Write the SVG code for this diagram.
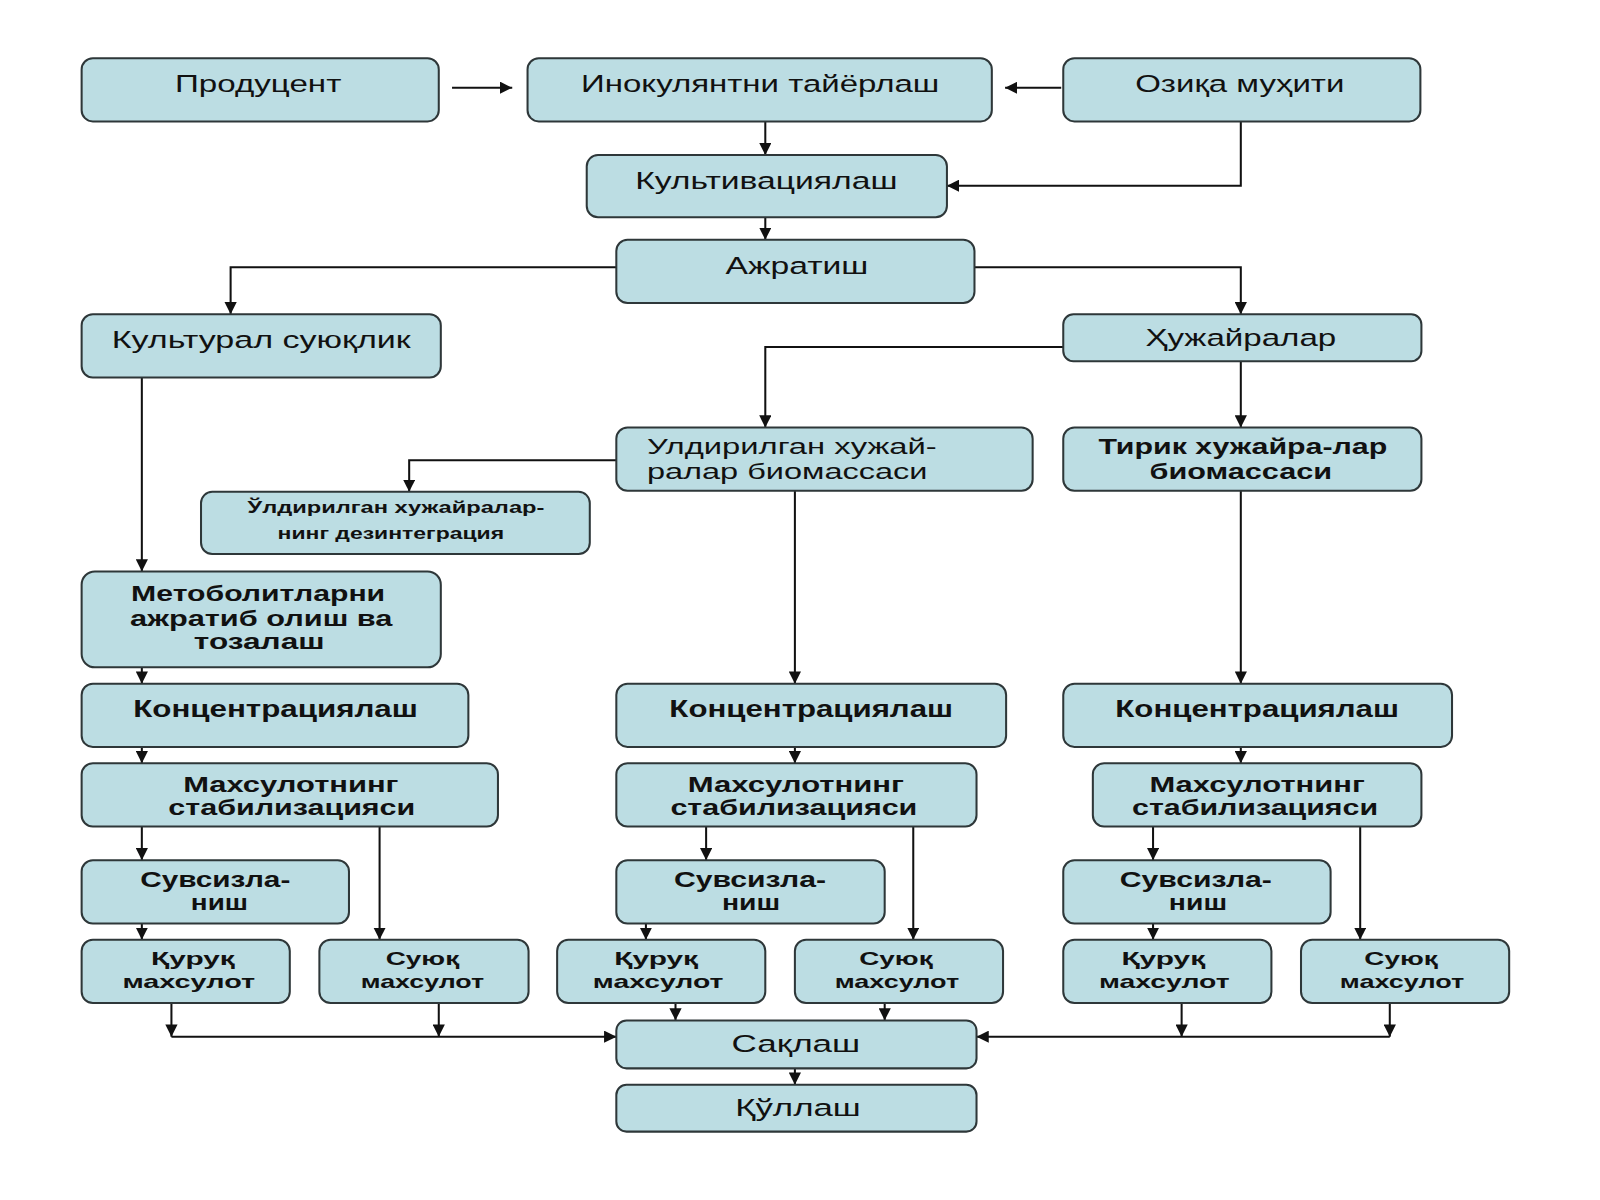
<svg xmlns="http://www.w3.org/2000/svg" width="1600" height="1200" viewBox="0 0 1600 1200">
<style>
.box rect{fill:#bcdde3;stroke:#2e3739;stroke-width:2}
.t{font-family:"Liberation Sans",Arial,sans-serif;font-size:23px;fill:#111;text-anchor:middle}
.s{text-anchor:start}
.b{font-weight:bold}
.two{font-size:21px}
.q{font-size:18px;font-weight:bold}
.sm{font-size:16px;font-weight:bold}
.c path{fill:none;stroke:#111;stroke-width:2;marker-end:url(#ah)}
</style>
<defs>
<marker id="ah" viewBox="0 0 10 10" refX="10" refY="5" markerWidth="12" markerHeight="12" markerUnits="userSpaceOnUse" orient="auto"><path d="M0,0 L10,5 L0,10 z" fill="#111"/></marker>
</defs>
<rect width="1600" height="1200" fill="#ffffff"/>
<g id="diagram" transform="scale(1.0204)">
<g class="c" id="connectors">
<path d="M443,86 H502"/>
<path d="M1040,86 H985"/>
<path d="M750,119 V152"/>
<path d="M1216,119 V182 H928"/>
<path d="M750,213 V235"/>
<path d="M604,262 H226 V308"/>
<path d="M955,262 H1216 V308"/>
<path d="M1042,340 H750 V419"/>
<path d="M1216,354 V419"/>
<path d="M604,451 H401 V482"/>
<path d="M779,481 V670"/>
<path d="M1216,481 V670"/>
<path d="M139,370 V560"/>
<path d="M139,654 V670"/>
<path d="M139,732 V748"/>
<path d="M779,732 V748"/>
<path d="M1216,732 V748"/>
<path d="M139,810 V843"/>
<path d="M372,810 V921"/>
<path d="M692,810 V843"/>
<path d="M895,810 V921"/>
<path d="M1130,810 V843"/>
<path d="M1333,810 V921"/>
<path d="M139,905 V921"/>
<path d="M633,905 V921"/>
<path d="M1130,905 V921"/>
<path d="M168,983 V1016"/>
<path d="M430,983 V1016"/>
<path d="M168,1016 H604"/>
<path d="M662,983 V1000"/>
<path d="M867,983 V1000"/>
<path d="M1158,983 V1016"/>
<path d="M1362,983 V1016"/>
<path d="M1362,1016 H957"/>
<path d="M779,1047 V1063"/>
</g>
<g class="box" id="n-producent"><rect x="80" y="57" width="350" height="62" rx="11"/><text class="t" x="253" y="90" textLength="163" lengthAdjust="spacingAndGlyphs">Продуцент</text></g>
<g class="box" id="n-inokulyant"><rect x="517" y="57" width="455" height="62" rx="11"/><text class="t" x="745" y="90" textLength="351" lengthAdjust="spacingAndGlyphs">Инокулянтни тайёрлаш</text></g>
<g class="box" id="n-ozika"><rect x="1042" y="57" width="350" height="62" rx="11"/><text class="t" x="1215" y="90" textLength="205" lengthAdjust="spacingAndGlyphs">Озиқа муҳити</text></g>
<g class="box" id="n-kultivatsiya"><rect x="575" y="152" width="353" height="61" rx="11"/><text class="t" x="751" y="185" textLength="257" lengthAdjust="spacingAndGlyphs">Культивациялаш</text></g>
<g class="box" id="n-ajratish"><rect x="604" y="235" width="351" height="62" rx="11"/><text class="t" x="781" y="269" textLength="140" lengthAdjust="spacingAndGlyphs">Ажратиш</text></g>
<g class="box" id="n-kultural"><rect x="80" y="308" width="352" height="62" rx="11"/><text class="t" x="256" y="341" textLength="293" lengthAdjust="spacingAndGlyphs">Культурал суюқлик</text></g>
<g class="box" id="n-hujayralar"><rect x="1042" y="308" width="351" height="46" rx="10"/><text class="t" x="1216" y="339" textLength="187" lengthAdjust="spacingAndGlyphs">Ҳужайралар</text></g>
<g class="box" id="n-uldirilgan"><rect x="604" y="419" width="408" height="62" rx="11"/><text class="t two s" x="634" y="445" textLength="284" lengthAdjust="spacingAndGlyphs">Улдирилган хужай-</text><text class="t two s" x="634" y="469" textLength="275" lengthAdjust="spacingAndGlyphs">ралар биомассаси</text></g>
<g class="box" id="n-tirik"><rect x="1042" y="419" width="351" height="62" rx="11"/><text class="t two b" x="1218" y="445" textLength="283" lengthAdjust="spacingAndGlyphs">Тирик хужайра-лар</text><text class="t two b" x="1216" y="469" textLength="179" lengthAdjust="spacingAndGlyphs">биомассаси</text></g>
<g class="box" id="n-dezintegratsiya"><rect x="197" y="482" width="381" height="61" rx="11"/><text class="t sm" x="388" y="503" textLength="291" lengthAdjust="spacingAndGlyphs">Ўлдирилган хужайралар-</text><text class="t sm" x="383" y="528" textLength="222" lengthAdjust="spacingAndGlyphs">нинг дезинтеграция</text></g>
<g class="box" id="n-metobolit"><rect x="80" y="560" width="352" height="94" rx="13"/><text class="t two b" x="253" y="589" textLength="249" lengthAdjust="spacingAndGlyphs">Метоболитларни</text><text class="t two b" x="256" y="613" textLength="257" lengthAdjust="spacingAndGlyphs">ажратиб олиш ва</text><text class="t two b" x="254" y="636" textLength="128" lengthAdjust="spacingAndGlyphs">тозалаш</text></g>
<g class="box" id="n-konts-l"><rect x="80" y="670" width="379" height="62" rx="11"/><text class="t b" x="270" y="703" textLength="279" lengthAdjust="spacingAndGlyphs">Концентрациялаш</text></g>
<g class="box" id="n-konts-m"><rect x="604" y="670" width="382" height="62" rx="11"/><text class="t b" x="795" y="703" textLength="278" lengthAdjust="spacingAndGlyphs">Концентрациялаш</text></g>
<g class="box" id="n-konts-r"><rect x="1042" y="670" width="381" height="62" rx="11"/><text class="t b" x="1232" y="703" textLength="278" lengthAdjust="spacingAndGlyphs">Концентрациялаш</text></g>
<g class="box" id="n-stab-l"><rect x="80" y="748" width="408" height="62" rx="11"/><text class="t two b" x="285" y="776" textLength="211" lengthAdjust="spacingAndGlyphs">Махсулотнинг</text><text class="t two b" x="286" y="799" textLength="242" lengthAdjust="spacingAndGlyphs">стабилизацияси</text></g>
<g class="box" id="n-stab-m"><rect x="604" y="748" width="353" height="62" rx="11"/><text class="t two b" x="780" y="776" textLength="212" lengthAdjust="spacingAndGlyphs">Махсулотнинг</text><text class="t two b" x="778" y="799" textLength="242" lengthAdjust="spacingAndGlyphs">стабилизацияси</text></g>
<g class="box" id="n-stab-r"><rect x="1071" y="748" width="322" height="62" rx="11"/><text class="t two b" x="1232" y="776" textLength="211" lengthAdjust="spacingAndGlyphs">Махсулотнинг</text><text class="t two b" x="1230" y="799" textLength="241" lengthAdjust="spacingAndGlyphs">стабилизацияси</text></g>
<g class="box" id="n-suvsiz-l"><rect x="80" y="843" width="262" height="62" rx="11"/><text class="t two b" x="211" y="869" textLength="147" lengthAdjust="spacingAndGlyphs">Сувсизла-</text><text class="t two b" x="215" y="892" textLength="56" lengthAdjust="spacingAndGlyphs">ниш</text></g>
<g class="box" id="n-suvsiz-m"><rect x="604" y="843" width="263" height="62" rx="11"/><text class="t two b" x="735" y="869" textLength="149" lengthAdjust="spacingAndGlyphs">Сувсизла-</text><text class="t two b" x="736" y="892" textLength="57" lengthAdjust="spacingAndGlyphs">ниш</text></g>
<g class="box" id="n-suvsiz-r"><rect x="1042" y="843" width="262" height="62" rx="11"/><text class="t two b" x="1172" y="869" textLength="149" lengthAdjust="spacingAndGlyphs">Сувсизла-</text><text class="t two b" x="1174" y="892" textLength="57" lengthAdjust="spacingAndGlyphs">ниш</text></g>
<g class="box" id="n-quruq-l"><rect x="80" y="921" width="204" height="62" rx="11"/><text class="t q" x="189" y="946" textLength="82" lengthAdjust="spacingAndGlyphs">Қуруқ</text><text class="t q" x="185" y="968" textLength="130" lengthAdjust="spacingAndGlyphs">махсулот</text></g>
<g class="box" id="n-suyuq-l"><rect x="313" y="921" width="205" height="62" rx="11"/><text class="t q" x="414" y="946" textLength="72" lengthAdjust="spacingAndGlyphs">Суюқ</text><text class="t q" x="414" y="968" textLength="121" lengthAdjust="spacingAndGlyphs">махсулот</text></g>
<g class="box" id="n-quruq-m"><rect x="546" y="921" width="204" height="62" rx="11"/><text class="t q" x="643" y="946" textLength="82" lengthAdjust="spacingAndGlyphs">Қуруқ</text><text class="t q" x="645" y="968" textLength="128" lengthAdjust="spacingAndGlyphs">махсулот</text></g>
<g class="box" id="n-suyuq-m"><rect x="779" y="921" width="204" height="62" rx="11"/><text class="t q" x="878" y="946" textLength="72" lengthAdjust="spacingAndGlyphs">Суюқ</text><text class="t q" x="879" y="968" textLength="122" lengthAdjust="spacingAndGlyphs">махсулот</text></g>
<g class="box" id="n-quruq-r"><rect x="1042" y="921" width="204" height="62" rx="11"/><text class="t q" x="1140" y="946" textLength="82" lengthAdjust="spacingAndGlyphs">Қуруқ</text><text class="t q" x="1141" y="968" textLength="128" lengthAdjust="spacingAndGlyphs">махсулот</text></g>
<g class="box" id="n-suyuq-r"><rect x="1275" y="921" width="204" height="62" rx="11"/><text class="t q" x="1373" y="946" textLength="72" lengthAdjust="spacingAndGlyphs">Суюқ</text><text class="t q" x="1374" y="968" textLength="122" lengthAdjust="spacingAndGlyphs">махсулот</text></g>
<g class="box" id="n-saqlash"><rect x="604" y="1000" width="353" height="47" rx="10"/><text class="t" x="780" y="1031" textLength="126" lengthAdjust="spacingAndGlyphs">Сақлаш</text></g>
<g class="box" id="n-qollash"><rect x="604" y="1063" width="353" height="46" rx="10"/><text class="t" x="782" y="1094" textLength="123" lengthAdjust="spacingAndGlyphs">Қўллаш</text></g>
</g>
</svg>
